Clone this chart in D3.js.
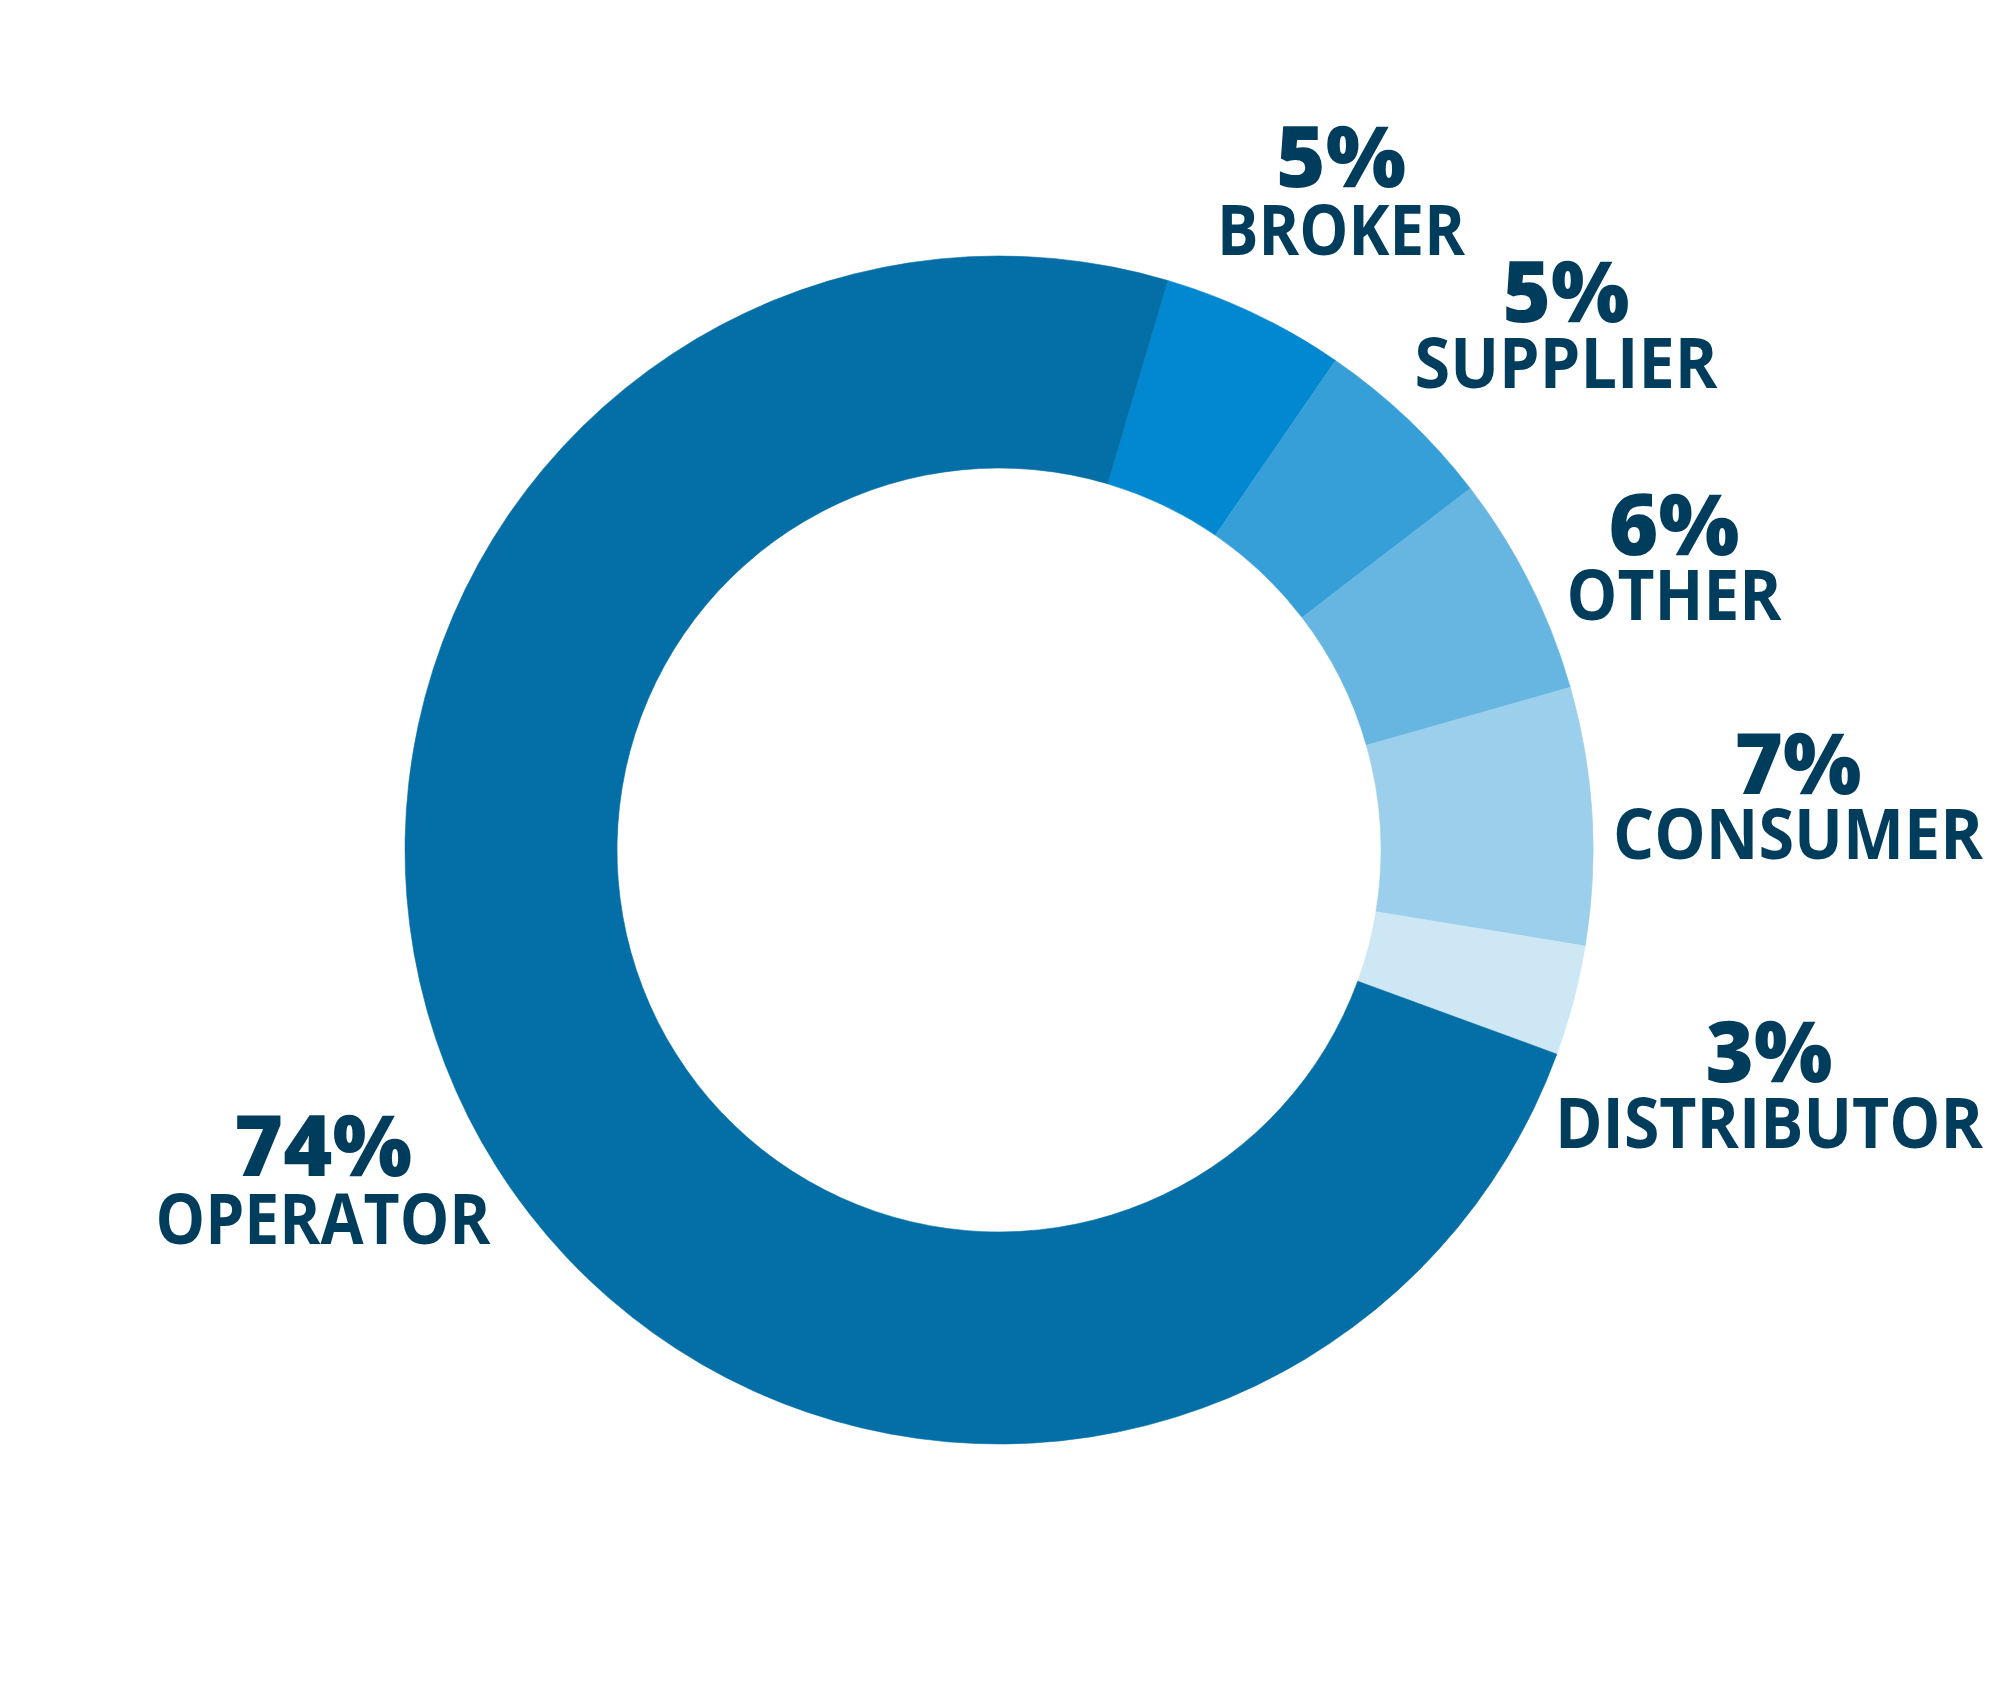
<!DOCTYPE html>
<html>
<head>
<meta charset="utf-8">
<script src="https://cdn.jsdelivr.net/npm/d3@7"></script>
<style>
  html, body { margin: 0; padding: 0; background: #ffffff; }
  svg { display: block; }
</style>
</head>
<body>
<svg id="chart" width="2000" height="1700"></svg>
<script>
// ---- data ----
const categories = ["BROKER", "SUPPLIER", "OTHER", "CONSUMER", "DISTRIBUTOR", "OPERATOR"];
const values = [5, 5, 6, 7, 3, 74];
const percentLabels = ["5%", "5%", "6%", "7%", "3%", "74%"];
const colors = ["#0288d1", "#369fd8", "#67b6e1", "#9bcfeb", "#cde7f5", "#046ea6"];

// ---- layout ----
const W = 2000, H = 1700;
const cx = 999, cy = 850;
const outerR = 594, innerR = 382;
const startDeg = 16.5;
const textColor = "#003d5c";

// label anchor positions (center x, percent baseline, name baseline) and target widths
const labelLayout = {
  BROKER:      { x: 1341, pY: 187,  nY: 255,  pW: 130, nW: 248 },
  SUPPLIER:    { x: 1566, pY: 322,  nY: 388,  pW: 127, nW: 303 },
  OTHER:       { x: 1674, pY: 555,  nY: 620,  pW: 131, nW: 215 },
  CONSUMER:    { x: 1798, pY: 794,  nY: 859,  pW: 127, nW: 370 },
  DISTRIBUTOR: { x: 1769, pY: 1082, nY: 1148, pW: 127, nW: 428 },
  OPERATOR:    { x: 323,  pY: 1176, nY: 1244, pW: 178, nW: 335 }
};

const svg = d3.select("#chart");
const data = categories.map((c, i) => ({ name: c, value: values[i], pct: percentLabels[i], color: colors[i] }));

const start = startDeg * Math.PI / 180;
const pie = d3.pie().sort(null).value(d => d.value).startAngle(start).endAngle(start + 2 * Math.PI);
const arc = d3.arc().innerRadius(innerR).outerRadius(outerR);

const g = svg.append("g").attr("transform", `translate(${cx},${cy})`);
g.selectAll("path.slice")
  .data(pie(data))
  .join("path")
  .attr("class", "slice")
  .attr("d", arc)
  .attr("fill", d => d.data.color)
  .attr("stroke", d => d.data.color)
  .attr("stroke-width", 0.6);

const labels = svg.append("g").attr("font-family", "'Open Sans', sans-serif").attr("fill", textColor);
data.forEach(d => {
  const L = labelLayout[d.name];
  labels.append("text")
    .attr("x", L.x).attr("y", L.pY)
    .attr("text-anchor", "middle")
    .attr("font-size", 85)
    .attr("font-weight", 800)
    .attr("textLength", L.pW)
    .attr("lengthAdjust", "spacingAndGlyphs")
    .text(d.pct);
  labels.append("text")
    .attr("x", L.x).attr("y", L.nY)
    .attr("text-anchor", "middle")
    .attr("font-size", 70)
    .attr("font-weight", 700)
    .attr("textLength", L.nW)
    .attr("lengthAdjust", "spacingAndGlyphs")
    .text(d.name);
});
</script>
</body>
</html>
